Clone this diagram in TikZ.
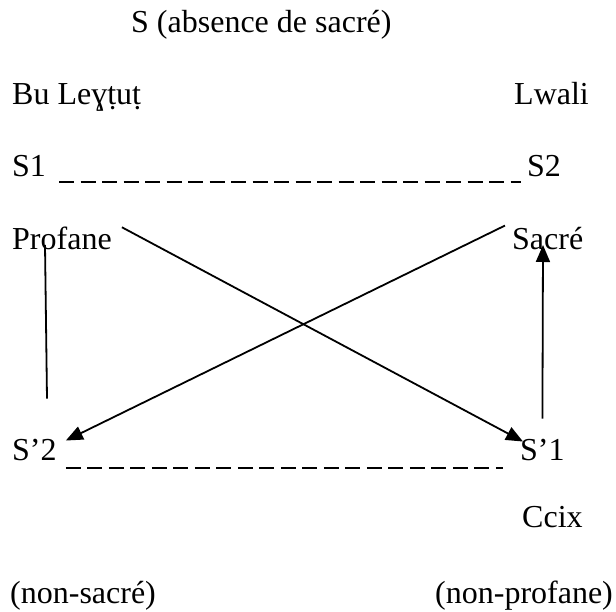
\documentclass[tikz,border=0pt]{standalone}
\usepackage{fontspec}
\setmainfont{Liberation Serif}
\usetikzlibrary{positioning, arrows.meta, calc}

\begin{document}
\begin{tikzpicture}[
      x=1pt, y=1pt,
      every node/.style={font=\fontsize{32}{38}\selectfont, inner sep=0pt, anchor=base west},
      link/.style={line width=1.8pt},
      gapline/.style={line width=1.8pt, dash pattern=on 15pt off 6.5pt},
      >={Triangle[length=17pt, width=14pt]},
    ]
    \useasboundingbox (0,0) rectangle (616,-612);

    \node (top) at (131,-33) {S (absence de sacré)};

    \node (bu)    at (12,-105)  {Bu Leɣṭuṭ};
    \node (lwali) at (514,-105) {Lwali};

    \node (s1) at (12,-177)  {S1};
    \node (s2) at (527,-177) {S2};

    \node (prof)  at (12,-250)  {Profane};
    \node (sacre) at (512,-250) {Sacré};

    \node (sp2) at (12,-460)  {S’2};
    \node (sp1) at (520,-460) {S’1};

    \node (ccix) at (522,-527) {Ccix};

    \node (nons) at (10,-603)  {(non-sacré)};
    \node (nonp) at (435,-603) {(non-profane)};

    % oppositions
    \draw[gapline] ([xshift=13pt, yshift=-5pt]s1.base east)
      -- ([xshift=-6pt, yshift=-5pt]s2.base west);
    \draw[gapline] ([xshift=9pt, yshift=-8pt]sp2.base east)
      -- ([xshift=-17pt, yshift=-8pt]sp1.base west);

    % contradictions
    \draw[link, ->] ([xshift=10pt]prof.north east) -- ([xshift=3pt, yshift=-3pt]sp1.north west);
    \draw[link, ->] ([xshift=-7pt, yshift=2pt]sacre.north west) -- ([xshift=9pt, yshift=-2pt]sp2.north east);

    % implications
    \draw[link] ([xshift=33pt, yshift=5pt]prof.base west) -- ([xshift=35pt, yshift=40pt]sp2.north west);
    \draw[link, ->] ([yshift=20pt]sp1.north) -- ([xshift=31pt, yshift=5pt]sacre.base west);
  \end{tikzpicture}
\end{document}
